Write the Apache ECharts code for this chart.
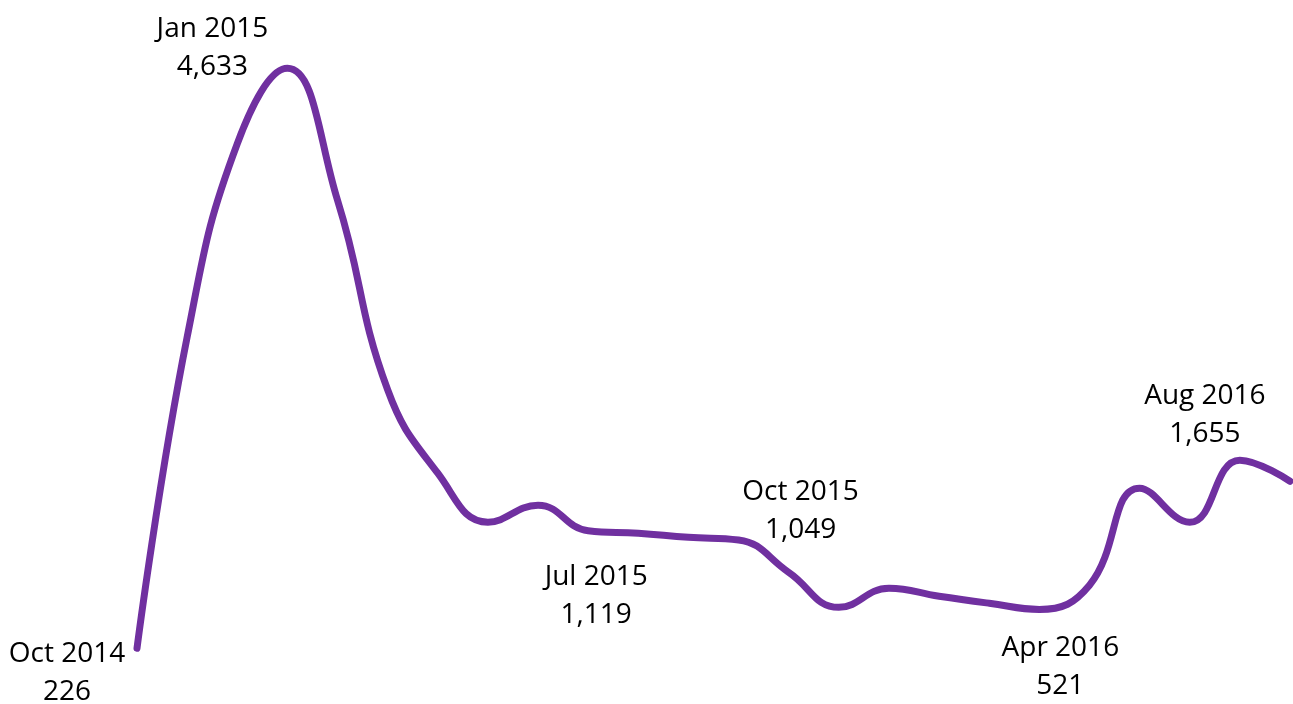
<!DOCTYPE html>
<html>
<head>
<meta charset="utf-8">
<script src="https://cdn.jsdelivr.net/npm/echarts@6/dist/echarts.min.js"></script>
<style>
  html, body { margin: 0; padding: 0; background: #fff; }
  #chart { width: 1293px; height: 704px; }
</style>
</head>
<body>
<div id="chart"></div>
<script>
// monthly values, Oct 2014 .. Sep 2016
const months = ['Oct 2014', 'Nov 2014', 'Dec 2014', 'Jan 2015', 'Feb 2015', 'Mar 2015',
  'Apr 2015', 'May 2015', 'Jun 2015', 'Jul 2015', 'Aug 2015', 'Sep 2015',
  'Oct 2015', 'Nov 2015', 'Dec 2015', 'Jan 2016', 'Feb 2016', 'Mar 2016',
  'Apr 2016', 'May 2016', 'Jun 2016', 'Jul 2016', 'Aug 2016', 'Sep 2016']
const values = [226, 2590, 4060, 4633, 3630, 2190,
  1556, 1184, 1313, 1119, 1100, 1069,
  1049, 803, 537, 682, 621, 568,
  521, 705, 1442, 1183, 1655, 1495]
// which points carry a label, and where the label sits relative to the point
const labelled = ['Oct 2014', 'Jan 2015', 'Jul 2015', 'Oct 2015', 'Apr 2016', 'Aug 2016']
const labelOffsets = [[-70, 25], [-75, -20], [8, 65], [62, -29], [21, 58], [-35, -45]]

const chart = echarts.init(document.getElementById('chart'))

const seriesData = values.map((v, i) => {
  const k = labelled.indexOf(months[i])
  if (k < 0) return v
  return {
    value: v,
    label: {
      show: true,
      offset: labelOffsets[k],
      formatter: months[i] + '\n' + v.toLocaleString('en-US')
    }
  }
})

chart.setOption({
  animation: false,
  grid: { left: 137, right: 3, top: 20, bottom: 26 },
  xAxis: {
    type: 'category',
    data: months,
    boundaryGap: false,
    show: false
  },
  yAxis: {
    type: 'value',
    min: 0,
    max: 5000,
    show: false
  },
  series: [{
    type: 'line',
    data: seriesData,
    smooth: 0.45,
    symbol: 'circle',
    symbolSize: 1,
    itemStyle: { color: 'rgba(0,0,0,0)' },
    lineStyle: { color: '#7030A0', width: 7, cap: 'round' },
    label: {
      show: false,
      position: 'inside',
      align: 'center',
      verticalAlign: 'middle',
      color: '#000',
      fontFamily: 'Open Sans',
      fontSize: 28,
      lineHeight: 38
    },
    emphasis: { disabled: true }
  }]
})
</script>
</body>
</html>
